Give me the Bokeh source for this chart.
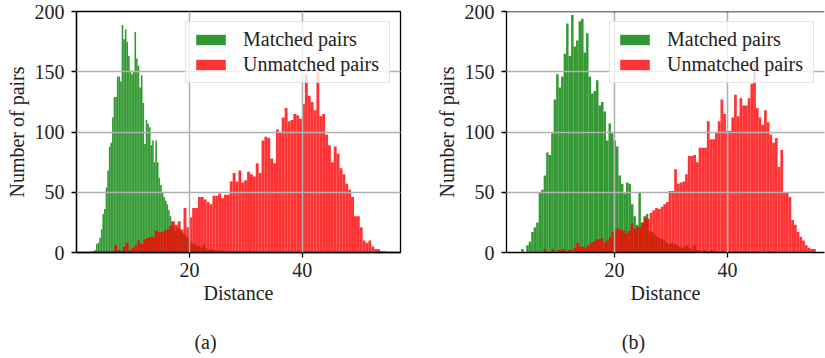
import numpy as np
from bokeh.plotting import figure
from bokeh.models import Range1d, Legend, LegendItem, FixedTicker, Span
from bokeh.layouts import row, column
from bokeh.core.properties import value
from bokeh.embed import file_html
from bokeh.resources import INLINE

# ---------------- data: histogram counts (100 bins per series) ----------------
# Panel (a)
matched_a = [1, 1, 2, 7, 8, 12, 19, 32, 36, 54,
             68, 88, 91, 112, 129, 129, 146, 146, 142, 189,
             177, 185, 175, 163, 151, 148, 150, 183, 161, 155,
             137, 147, 124, 90, 110, 107, 104, 89, 93, 75,
             93, 75, 62, 56, 50, 46, 43, 40, 35, 30,
             26, 22, 18, 20, 21, 19, 17, 16, 15, 13,
             12, 10, 9, 7, 8, 6, 5, 6, 4, 5,
             7, 4, 3, 3, 2, 3, 2, 2, 1, 2,
             1, 2, 1, 1, 0, 1, 1, 0, 1, 0,
             1, 0, 1, 0, 0, 1, 0, 0, 0, 1]
matched_a_range = (2.6, 31.0)
unmatched_a = [1, 0, 0, 1, 0, 1, 6, 2, 1, 5,
               8, 2, 4, 6, 10, 7, 11, 12, 13, 13,
               18, 17, 17, 18, 19, 22, 26, 23, 26, 19,
               37, 21, 29, 37, 37, 46, 46, 44, 42, 40,
               47, 47, 49, 45, 48, 48, 59, 66, 59, 68,
               58, 60, 67, 65, 63, 74, 66, 93, 96, 95,
               78, 74, 102, 100, 112, 120, 109, 110, 115, 114,
               111, 123, 148, 130, 125, 118, 151, 113, 115, 98,
               89, 75, 88, 82, 70, 65, 57, 52, 46, 30,
               30, 21, 10, 8, 10, 5, 3, 3, 1, 1]
unmatched_a_range = (3.6, 54.8)

# Panel (b)
matched_b = [3, 0, 6, 9, 17, 21, 25, 50, 52, 64,
             83, 81, 99, 127, 148, 137, 146, 165, 190, 163,
             197, 171, 176, 192, 194, 166, 182, 146, 132, 134,
             143, 122, 125, 117, 93, 107, 99, 93, 88, 64,
             57, 49, 58, 57, 40, 30, 23, 50, 25, 30,
             32, 18, 17, 15, 13, 12, 11, 10, 8, 7,
             8, 7, 6, 5, 4, 5, 6, 4, 3, 6,
             2, 2, 1, 2, 1, 1, 2, 1, 1, 0,
             1, 1, 0, 1, 0, 1, 0, 1, 0, 0,
             1, 0, 0, 1, 0, 0, 0, 0, 0, 1]
matched_b_range = (3.53, 47.6)
unmatched_b = [3, 0, 0, 3, 0, 2, 2, 3, 0, 2,
               2, 4, 8, 5, 5, 4, 6, 8, 9, 11,
               11, 12, 8, 10, 13, 17, 19, 20, 19, 18,
               16, 18, 24, 20, 21, 21, 25, 29, 28, 33,
               35, 37, 36, 38, 40, 42, 51, 51, 69, 57,
               58, 59, 65, 80, 80, 81, 75, 87, 87, 87,
               109, 94, 94, 100, 109, 127, 115, 101, 101, 112,
               131, 113, 128, 122, 122, 128, 140, 158, 120, 112,
               106, 118, 108, 98, 91, 95, 71, 85, 50, 50,
               46, 27, 23, 17, 13, 10, 6, 4, 3, 3]
unmatched_b_range = (7.47, 55.6)

x_ticks = [20, 40]
y_ticks = [0, 50, 100, 150, 200]
legend_labels = ["Matched pairs", "Unmatched pairs"]
x_label = "Distance"
y_label = "Number of pairs"
captions = ["(a)", "(b)"]

FONT = "'Liberation Serif', 'DejaVu Serif', serif"
FS = "20px"
FULL_FRAME_W = 324
MAIN_H = 310
CAP_H = 48


def make_panel(matched, m_rng, unmatched, u_rng, width, b_left, b_right, cut):
    lo = min(m_rng[0], u_rng[0])
    hi = max(m_rng[1], u_rng[1])
    R = hi - lo
    x0, x1 = lo - 0.05 * R, hi + 0.05 * R
    frame_w = width - b_left - b_right
    if cut:
        x1 = x0 + (x1 - x0) * frame_w / FULL_FRAME_W
    p = figure(width=width, height=MAIN_H, output_backend="svg", toolbar_location=None,
               x_range=Range1d(x0, x1), y_range=Range1d(0, 200),
               min_border_left=b_left, min_border_right=b_right,
               min_border_top=11, min_border_bottom=MAIN_H - 252,
               background_fill_color="white", border_fill_color="white")
    me = np.linspace(m_rng[0], m_rng[1], len(matched) + 1)
    ue = np.linspace(u_rng[0], u_rng[1], len(unmatched) + 1)
    r1 = p.quad(left=me[:-1], right=me[1:], bottom=0, top=matched,
                fill_color="green", fill_alpha=0.8, line_color=None)
    r2 = p.quad(left=ue[:-1], right=ue[1:], bottom=0, top=unmatched,
                fill_color="red", fill_alpha=0.8, line_color=None)

    for ax in (p.xaxis[0], p.yaxis[0]):
        ax.major_label_text_font = FONT
        ax.major_label_text_font_size = FS
        ax.axis_label_text_font = FONT
        ax.axis_label_text_font_size = FS
        ax.axis_label_text_font_style = "normal"
        ax.major_tick_in = 0
        ax.major_tick_out = 5
        ax.minor_tick_in = 0
        ax.minor_tick_out = 0
        ax.axis_line_color = "black"
        ax.axis_line_width = 1.3
        ax.major_tick_line_width = 1.3
        ax.major_label_text_color = "#222222"
        ax.axis_label_text_color = "#222222"
    p.xaxis.ticker = FixedTicker(ticks=x_ticks)
    p.yaxis.ticker = FixedTicker(ticks=y_ticks)
    p.xaxis.axis_label = x_label
    p.yaxis.axis_label = y_label
    p.xaxis.major_label_standoff = 5
    p.xaxis.axis_label_standoff = 2
    p.yaxis.major_label_standoff = 7
    p.yaxis.axis_label_standoff = 4

    for g in (p.xgrid[0], p.ygrid[0]):
        g.grid_line_color = "#b0b0b0"
        g.grid_line_width = 1.5
        g.level = "guide"
    p.xgrid.ticker = FixedTicker(ticks=x_ticks)
    p.ygrid.ticker = FixedTicker(ticks=y_ticks)

    if cut:
        p.outline_line_color = None
        p.add_layout(Span(location=200, dimension="width", line_color="black", line_width=1.3))
    else:
        p.outline_line_color = "black"
        p.outline_line_width = 1.3
        p.outline_line_alpha = 1.0

    legend = Legend(items=[LegendItem(label=legend_labels[0], renderers=[r1]),
                           LegendItem(label=legend_labels[1], renderers=[r2])],
                    location="top_right", margin=10, padding=6, spacing=2,
                    glyph_width=37, glyph_height=13, label_standoff=14,
                    label_width=140, label_height=22,
                    label_text_font=FONT, label_text_font_size=FS,
                    label_text_color="#222222",
                    border_line_color="#cccccc", border_line_width=1,
                    background_fill_color="white", background_fill_alpha=0.8)
    p.add_layout(legend, "center")
    return p


def make_caption(text, width, cx):
    c = figure(width=width, height=CAP_H, output_backend="svg", toolbar_location=None,
               x_range=Range1d(0, width), y_range=Range1d(0, CAP_H),
               x_axis_location=None, y_axis_location=None,
               min_border=0, outline_line_color=None,
               background_fill_color="white", border_fill_color="white")
    c.xgrid.visible = False
    c.ygrid.visible = False
    c.text(x=[cx], y=[CAP_H - 31], text=[text], text_align="center",
           text_baseline="middle", text_font=value(FONT),
           text_font_size=value(FS), text_color="#222222")
    return c


p1 = make_panel(matched_a, matched_a_range, unmatched_a, unmatched_a_range,
                412, 76, 12, False)
p2 = make_panel(matched_b, matched_b_range, unmatched_b, unmatched_b_range,
                413, 94, 1, True)
c1 = make_caption(captions[0], 412, 205)
c2 = make_caption(captions[1], 413, 221)

layout = column(row(p1, p2), row(c1, c2))
open("out.html", "w").write(file_html(layout, INLINE))
